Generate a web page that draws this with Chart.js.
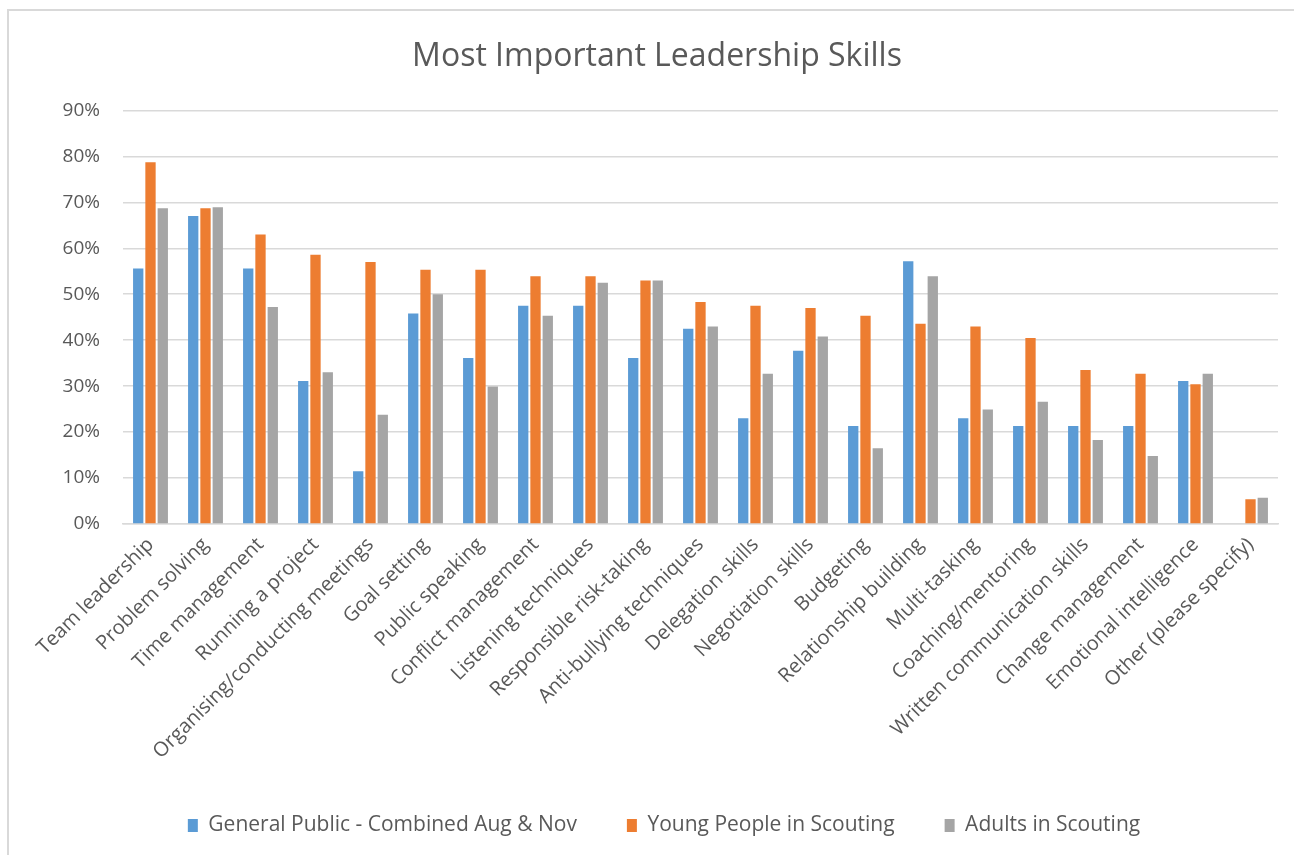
<!DOCTYPE html>
<html>
<head>
<meta charset="utf-8">
<script src="https://cdn.jsdelivr.net/npm/chart.js@4.4.1/dist/chart.umd.min.js"></script>
<style>
  html, body { margin: 0; padding: 0; background: #fff; }
  #wrap { position: relative; width: 1294px; height: 855px; }
</style>
</head>
<body>
<div id="wrap">
  <canvas id="skillsChart" width="1294" height="855"></canvas>
</div>

<script>
// Survey categories and percentages per group
const skills = [
    'Team leadership', 'Problem solving', 'Time management', 'Running a project',
    'Organising/conducting meetings', 'Goal setting', 'Public speaking',
    'Conflict management', 'Listening techniques', 'Responsible risk-taking',
    'Anti-bullying techniques', 'Delegation skills', 'Negotiation skills',
    'Budgeting', 'Relationship building', 'Multi-tasking', 'Coaching/mentoring',
    'Written communication skills', 'Change management', 'Emotional intelligence',
    'Other (please specify)'
];

const generalPublic = [55.6, 67.0, 55.6, 31.1, 11.5, 45.8, 36.1, 47.5, 47.5, 36.1, 42.5,
    23.0, 37.7, 21.3, 57.2, 23.0, 21.3, 21.3, 21.3, 31.1, null];
const youngPeople = [78.7, 68.7, 63.0, 58.6, 57.0, 55.3, 55.3, 53.9, 53.9, 53.0, 48.3,
    47.5, 47.0, 45.3, 43.6, 43.0, 40.5, 33.5, 32.7, 30.4, 5.4];
const adults = [68.7, 68.9, 47.2, 33.0, 23.8, 50.0, 29.9, 45.3, 52.5, 53.0, 43.0,
    32.7, 40.8, 16.5, 53.9, 24.9, 26.6, 18.3, 14.8, 32.7, 5.7];

const yTicks = [0, 10, 20, 30, 40, 50, 60, 70, 80, 90];

const textGrey = '#595959';

// Thin frame along the top and left edge of the chart
const framePlugin = {
    id: 'frame',
    beforeDraw(chart) {
        const ctx = chart.ctx;
        ctx.save();
        ctx.fillStyle = '#fff';
        ctx.fillRect(0, 0, chart.width, chart.height);
        ctx.strokeStyle = '#d9d9d9';
        ctx.lineWidth = 2;
        ctx.beginPath();
        ctx.moveTo(8, chart.height);
        ctx.lineTo(8, 10);
        ctx.lineTo(chart.width, 10);
        ctx.stroke();
        ctx.restore();
    }
};

// Nudge the legend a little to the right of the title's centre line
const legendShift = {
    id: 'legendShift',
    afterLayout(chart) {
        chart.legend.left += 7;
        chart.legend.right += 7;
    }
};

function initSkillsChart() {
    const ctx = document.getElementById('skillsChart').getContext('2d');

    new Chart(ctx, {
        type: 'bar',
        data: {
            labels: skills,
            datasets: [{
                label: 'General Public - Combined Aug & Nov',
                data: generalPublic,
                backgroundColor: '#5B9BD5'
            }, {
                label: 'Young People in Scouting',
                data: youngPeople,
                backgroundColor: '#ED7D31'
            }, {
                label: 'Adults in Scouting',
                data: adults,
                backgroundColor: '#A5A5A5'
            }]
        },
        options: {
            responsive: false,
            animation: false,
            datasets: {
                bar: {
                    categoryPercentage: 0.67,
                    barPercentage: 0.84
                }
            },
            layout: {
                padding: { left: 36, right: 16, top: 0, bottom: 9 }
            },
            plugins: {
                title: {
                    display: true,
                    text: 'Most Important Leadership Skills',
                    color: textGrey,
                    font: { family: 'Open Sans', size: 32, weight: 'normal' },
                    padding: { top: 38, bottom: 34 }
                },
                legend: {
                    position: 'bottom',
                    maxHeight: 96,
                    labels: {
                        color: textGrey,
                        font: { family: 'Open Sans', size: 21 },
                        boxWidth: 10,
                        boxHeight: 13,
                        padding: 50
                    }
                },
                tooltip: { enabled: false }
            },
            scales: {
                y: {
                    min: 0,
                    max: 90,
                    afterBuildTicks(scale) {
                        scale.ticks = yTicks.map(v => ({ value: v }));
                    },
                    afterFit(scale) {
                        scale.width = 87;
                    },
                    grid: {
                        color: '#d9d9d9',
                        lineWidth: 1.5,
                        drawTicks: false
                    },
                    border: { display: false },
                    ticks: {
                        color: textGrey,
                        font: { family: 'Open Sans', size: 19 },
                        padding: 23,
                        callback: v => v + '%'
                    }
                },
                x: {
                    afterFit(scale) {
                        scale.height = 241;
                    },
                    grid: { display: false, drawTicks: false },
                    border: { color: '#d9d9d9', width: 1.5 },
                    ticks: {
                        color: textGrey,
                        font: { family: 'Open Sans', size: 20 },
                        minRotation: 45,
                        maxRotation: 45,
                        autoSkip: false,
                        padding: 9
                    }
                }
            }
        },
        plugins: [framePlugin, legendShift]
    });
}

document.addEventListener('DOMContentLoaded', initSkillsChart);
</script>
</body>
</html>
